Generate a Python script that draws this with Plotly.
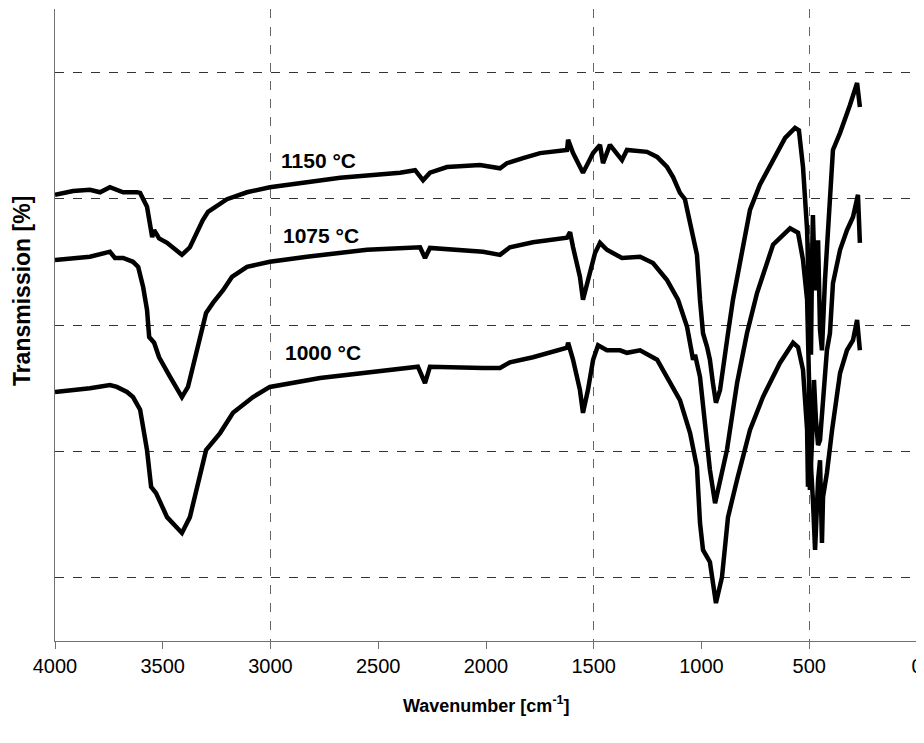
import plotly.graph_objects as go

# FTIR spectra (wavenumber in cm-1, transmission in %)
wn_1150 = [4000, 3916, 3838, 3791, 3745, 3684, 3619, 3605, 3573, 3563, 3549, 3540, 3517, 3480,
           3411, 3374, 3314, 3290, 3202, 3109, 3003, 2831, 2677, 2399, 2329, 2292, 2260, 2181,
           2028, 1935, 1903, 1828, 1749, 1624, 1619, 1596, 1564, 1550, 1527, 1503, 1471, 1457,
           1425, 1369, 1346, 1253, 1206, 1160, 1132, 1100, 1077, 1044, 1021, 1007, 993, 974,
           961, 947, 933, 914, 900, 877, 854, 812, 775, 729, 668, 612, 566, 548, 529, 510,
           501, 492, 487, 483, 473, 459, 450, 441, 427, 408, 390, 357, 334, 311, 278, 269, 265]
tr_1150 = [80.6, 81.2, 81.4, 81.0, 81.8, 81.0, 81.0, 80.9, 78.7, 76.6, 73.9, 75.0, 73.7, 73.0,
           71.1, 72.3, 76.6, 77.9, 79.9, 81.0, 81.8, 82.6, 83.3, 84.1, 84.5, 82.9, 84.1, 85.0,
           85.3, 84.8, 85.6, 86.4, 87.2, 87.7, 89.3, 87.2, 85.0, 84.1, 85.6, 87.2, 88.5, 85.6,
           88.5, 86.1, 87.7, 87.4, 86.6, 85.0, 83.4, 80.9, 79.9, 74.2, 71.1, 64.0, 58.7, 56.5,
           54.5, 50.8, 47.7, 49.7, 53.4, 58.7, 64.0, 71.9, 78.2, 82.2, 86.1, 89.6, 91.2, 90.8,
           85.0, 75.0, 64.0, 55.3, 70.3, 77.4, 65.5, 73.4, 59.2, 56.0, 67.1, 78.2, 87.7, 90.4,
           92.4, 94.8, 98.3, 96.4, 94.5]

wn_1075 = [4000, 3916, 3838, 3745, 3722, 3684, 3638, 3614, 3591, 3573, 3563, 3540, 3517, 3466,
           3411, 3383, 3350, 3318, 3299, 3267, 3220, 3179, 3109, 3003, 2831, 2552, 2306, 2283,
           2260, 2014, 1935, 1889, 1782, 1624, 1610, 1596, 1564, 1550, 1527, 1494, 1471, 1439,
           1369, 1285, 1225, 1160, 1109, 1067, 1039, 1030, 1007, 974, 961, 937, 914, 882, 835,
           789, 742, 696, 668, 589, 552, 529, 510, 501, 497, 487, 478, 469, 459, 450, 436, 418,
           404, 390, 357, 325, 297, 274, 265]
tr_1075 = [70.3, 70.6, 70.8, 71.6, 70.6, 70.6, 70.0, 69.2, 66.0, 62.4, 58.1, 57.2, 54.9, 51.8,
           48.6, 50.2, 54.9, 59.2, 61.9, 63.5, 65.5, 67.6, 69.2, 70.0, 70.8, 71.9, 72.3, 70.6,
           72.2, 71.6, 71.1, 72.3, 73.1, 73.8, 74.7, 72.3, 67.6, 64.0, 67.1, 71.4, 73.0, 71.9,
           70.6, 70.8, 69.8, 67.1, 64.0, 59.7, 54.5, 55.3, 51.8, 40.7, 37.1, 31.8, 35.0, 40.2,
           50.8, 58.7, 65.1, 69.8, 72.7, 75.3, 74.6, 70.3, 64.0, 51.3, 33.9, 41.8, 51.3, 45.0,
           41.0, 41.8, 48.1, 56.0, 58.7, 66.6, 71.9, 75.0, 77.1, 80.6, 73.0]

wn_1000 = [4000, 3916, 3838, 3745, 3713, 3666, 3638, 3605, 3573, 3554, 3531, 3480, 3411, 3374,
           3327, 3299, 3234, 3174, 3081, 3003, 2770, 2552, 2316, 2283, 2260, 2014, 1935, 1889,
           1782, 1624, 1619, 1596, 1564, 1550, 1527, 1503, 1480, 1439, 1378, 1346, 1285, 1206,
           1160, 1100, 1053, 1021, 1007, 993, 961, 933, 905, 877, 835, 775, 715, 636, 575, 552,
           529, 520, 510, 506, 497, 483, 473, 459, 450, 441, 436, 418, 394, 357, 325, 297, 278,
           265]
tr_1000 = [49.4, 49.7, 50.0, 50.5, 50.2, 49.4, 48.6, 46.6, 40.2, 34.4, 33.4, 29.6, 27.1, 29.6,
           35.9, 40.2, 42.9, 46.1, 48.6, 50.2, 51.6, 52.4, 53.4, 50.8, 53.4, 53.2, 53.2, 54.1,
           54.9, 56.4, 57.2, 54.5, 49.7, 46.1, 49.7, 54.5, 56.8, 56.0, 56.0, 55.6, 56.0, 54.5,
           51.8, 48.1, 42.9, 37.5, 28.7, 24.4, 22.5, 16.0, 20.1, 29.6, 35.5, 43.4, 48.6, 54.0,
           57.2, 56.5, 52.9, 48.6, 43.4, 34.4, 40.7, 32.3, 24.4, 35.5, 38.6, 25.5, 32.8, 36.6,
           43.4, 52.4, 56.0, 57.6, 60.8, 56.0]

labels = ["1150 °C", "1075 °C", "1000 °C"]
label_x = [2960, 2950, 2940]
label_y = [86.1, 74.2, 55.7]

x_ticks = [4000, 3500, 3000, 2500, 2000, 1500, 1000, 500, 0]
x_grid = [3000, 1500, 500]
y_grid = [20, 40, 60, 80, 100]

fig = go.Figure()
for wn, tr in [(wn_1150, tr_1150), (wn_1075, tr_1075), (wn_1000, tr_1000)]:
    fig.add_trace(go.Scatter(x=wn, y=tr, mode="lines",
                             line=dict(color="black", width=4.5),
                             showlegend=False, hoverinfo="skip"))

for txt, lx, ly in zip(labels, label_x, label_y):
    fig.add_annotation(x=lx, y=ly, text="<b>" + txt + "</b>", showarrow=False,
                       xanchor="left", yanchor="middle",
                       font=dict(family="Arial", size=21, color="black"))

fig.add_annotation(xref="paper", yref="paper", x=0.5, y=-0.101,
                   text="<b>Wavenumber [cm<sup>-1</sup>]</b>", showarrow=False,
                   xanchor="center", yanchor="middle",
                   font=dict(family="Arial", size=18, color="black"))
fig.add_annotation(xref="paper", yref="paper", x=-0.038, y=0.554,
                   text="<b>Transmission [%]</b>", showarrow=False, textangle=-90,
                   xanchor="center", yanchor="middle",
                   font=dict(family="Arial", size=23, color="black"))

# page body adds an 8px offset, so margins are shifted to keep the plot area in place
fig.update_layout(
    width=924, height=743,
    margin=dict(l=47, r=15, t=1, b=110),
    plot_bgcolor="white", paper_bgcolor="white",
    xaxis=dict(range=[4000, 0], tickvals=x_ticks, showgrid=False, zeroline=False,
               showline=True, linecolor="#707070", linewidth=1,
               ticks="outside", ticklen=7, tickcolor="#707070",
               tickfont=dict(family="Arial", size=20, color="black")),
    xaxis2=dict(range=[4000, 0], overlaying="x", tickvals=x_grid, showticklabels=False,
                showgrid=True, gridcolor="#666666", griddash="dash", gridwidth=1,
                zeroline=False, showline=False, ticks=""),
    yaxis=dict(range=[10, 110], tickvals=y_grid, showticklabels=False, ticks="",
               showgrid=True, gridcolor="#333333", griddash="dash", gridwidth=1,
               zeroline=False, showline=True, linecolor="#707070", linewidth=1, mirror=True),
)
fig.add_trace(go.Scatter(x=[], y=[], xaxis="x2", showlegend=False))

fig.write_html("out.html")
